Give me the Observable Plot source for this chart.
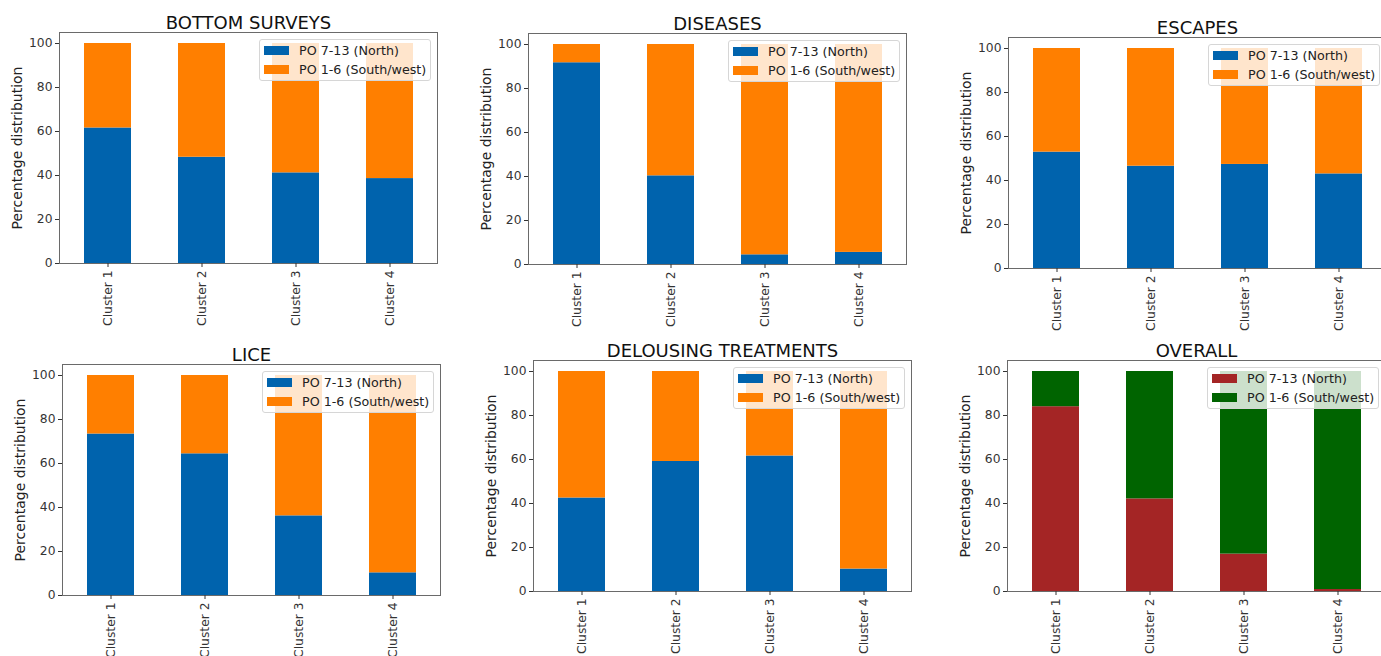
<!DOCTYPE html>
<html>
<head>
<meta charset="utf-8">
<script src="https://cdn.jsdelivr.net/npm/d3@7"></script>
<script src="https://cdn.jsdelivr.net/npm/@observablehq/plot@0.6"></script>
<style>
  html, body { margin: 0; padding: 0; background: #fff; }
  body { width: 1381px; height: 656px; overflow: hidden; position: relative; font-family: "DejaVu Sans", sans-serif; }
  .panel { position: absolute; }
  .panel svg { overflow: visible; max-width: none !important; display: block; }
  .legend {
    position: absolute; width: 172px; height: 42px; box-sizing: border-box;
    background: rgba(255,255,255,0.8); border: 1px solid #d6d6d6; border-radius: 3px;
    padding: 2px 4px; font-family: "DejaVu Sans", sans-serif; font-size: 12.7px; color: #222;
  }
  .legend .row { display: flex; align-items: center; height: 16px; margin-bottom: 3px; white-space: nowrap; }
  .legend .sw { width: 25px; height: 9px; margin-right: 10px; flex: none; }
</style>
</head>
<body>
<script>
// ---- data ----
const clusters = ["Cluster 1", "Cluster 2", "Cluster 3", "Cluster 4"];
const seriesNames = ["PO 7-13 (North)", "PO 1-6 (South/west)"];
const panelTitles = ["BOTTOM SURVEYS", "DISEASES", "ESCAPES", "LICE", "DELOUSING TREATMENTS", "OVERALL"];
const yTicks = [0, 20, 40, 60, 80, 100];
const yLabel = "Percentage distribution";

// share (%) of PO 7-13 (North); PO 1-6 (South/west) is the remainder to 100
const northBottomSurveys = [61.6, 48.3, 41.2, 38.6];
const northDiseases      = [91.7, 40.3, 4.4, 5.5];
const northEscapes       = [52.9, 46.5, 47.3, 43.0];
const northLice          = [73.4, 64.4, 36.2, 10.3];
const northDelousing     = [42.5, 59.1, 61.6, 10.2];
const northOverall       = [84.0, 42.1, 17.0, 0.9];

const northSeries = [northBottomSurveys, northDiseases, northEscapes, northLice, northDelousing, northOverall];

// ---- styles / layout ----
const blueOrange = ["#0063ad", "#ff7f00"];
const redGreen = ["#a42525", "#006400"];
const panelColors = [blueOrange, blueOrange, blueOrange, blueOrange, blueOrange, redGreen];
const frameOrigins = [
  {left: 59, top: 32}, {left: 528, top: 33}, {left: 1008, top: 37},
  {left: 62, top: 364}, {left: 533, top: 360}, {left: 1007, top: 360}
];
const frameW = 378, frameH = 231;
const mL = 60, mT = 40, mR = 10, mB = 70;

panelTitles.forEach((title, i) => {
  const north = northSeries[i];
  const rows = [];
  clusters.forEach((c, j) => {
    rows.push({cluster: c, series: seriesNames[0], value: north[j]});
    rows.push({cluster: c, series: seriesNames[1], value: 100 - north[j]});
  });
  const colors = panelColors[i];
  const W = mL + frameW + mR, H = mT + frameH + mB;
  const chart = Plot.plot({
    width: W,
    height: H,
    marginLeft: mL, marginTop: mT, marginRight: mR, marginBottom: mB,
    style: {fontFamily: "DejaVu Sans", background: "transparent", overflow: "visible"},
    x: {type: "band", domain: clusters, paddingInner: 0.5, paddingOuter: 0.25, axis: null},
    y: {domain: [0, 105], axis: null},
    color: {type: "ordinal", domain: seriesNames, range: colors},
    marks: [
      Plot.barY(rows, {x: "cluster", y: "value", fill: "series", inset: 0}),
      Plot.frame({stroke: "#6a6a6a", strokeWidth: 1}),
      Plot.axisY({ticks: yTicks, tickSize: 4, tickPadding: 3, fontSize: 12.3, label: null, color: "#333"}),
      Plot.axisX({tickRotate: -90, tickSize: 4, tickPadding: 3, fontSize: 12.3, label: null, color: "#333"}),
      Plot.text([title], {frameAnchor: "top", dy: -4, lineAnchor: "bottom", fontSize: 18, fill: "#111"}),
      Plot.text([yLabel], {frameAnchor: "left", textAnchor: "middle", lineAnchor: "middle", rotate: -90, dx: -42, fontSize: 14, fill: "#222"})
    ]
  });
  const div = document.createElement("div");
  div.className = "panel";
  div.style.left = (frameOrigins[i].left - mL) + "px";
  div.style.top = (frameOrigins[i].top - mT) + "px";
  div.style.width = W + "px";
  div.style.height = H + "px";
  div.appendChild(chart);

  const leg = document.createElement("div");
  leg.className = "legend";
  leg.style.left = (mL + frameW - 6 - 172) + "px";
  leg.style.top = (mT + 7) + "px";
  seriesNames.forEach((s, k) => {
    const r = document.createElement("div");
    r.className = "row";
    const sw = document.createElement("span");
    sw.className = "sw";
    sw.style.background = colors[k];
    const t = document.createElement("span");
    t.textContent = s;
    r.appendChild(sw); r.appendChild(t);
    leg.appendChild(r);
  });
  div.appendChild(leg);
  document.body.appendChild(div);
});
</script>
</body>
</html>
